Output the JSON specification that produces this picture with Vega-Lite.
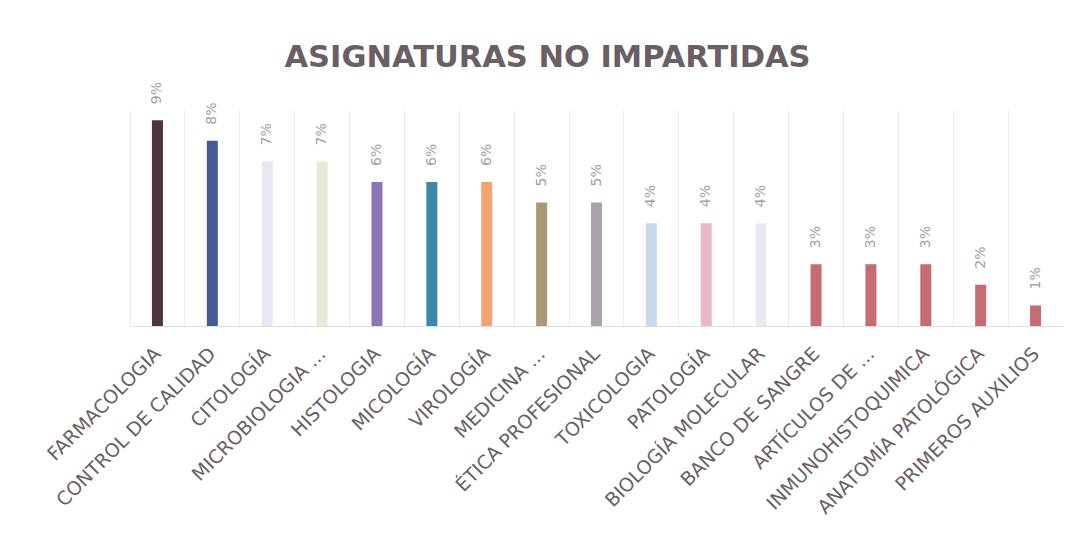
{
  "$schema": "https://vega.github.io/schema/vega-lite/v6.json",
  "width": 933,
  "height": 216,
  "autosize": {"type": "none"},
  "padding": {"left": 130, "top": 110, "right": 13, "bottom": 225},
  "background": "white",
  "title": {
    "text": "ASIGNATURAS NO IMPARTIDAS",
    "font": "DejaVu Sans",
    "fontWeight": "bold",
    "fontSize": 30.5,
    "color": "#6b5f66",
    "anchor": "middle",
    "frame": "group",
    "baseline": "alphabetic",
    "offset": -16,
    "dx": -49
  },
  "data": {
    "values": [
      {"asignatura": "FARMACOLOGIA", "valor": 0.0893},
      {"asignatura": "CONTROL DE CALIDAD", "valor": 0.0804},
      {"asignatura": "CITOLOGÍA", "valor": 0.0714},
      {"asignatura": "MICROBIOLOGIA ...", "valor": 0.0714},
      {"asignatura": "HISTOLOGIA", "valor": 0.0625},
      {"asignatura": "MICOLOGÍA", "valor": 0.0625},
      {"asignatura": "VIROLOGÍA", "valor": 0.0625},
      {"asignatura": "MEDICINA ...", "valor": 0.0536},
      {"asignatura": "ÉTICA PROFESIONAL", "valor": 0.0536},
      {"asignatura": "TOXICOLOGIA", "valor": 0.0446},
      {"asignatura": "PATOLOGÍA", "valor": 0.0446},
      {"asignatura": "BIOLOGÍA MOLECULAR", "valor": 0.0446},
      {"asignatura": "BANCO DE SANGRE", "valor": 0.0268},
      {"asignatura": "ARTÍCULOS DE ...", "valor": 0.0268},
      {"asignatura": "INMUNOHISTOQUIMICA", "valor": 0.0268},
      {"asignatura": "ANATOMÍA PATOLÓGICA", "valor": 0.0179},
      {"asignatura": "PRIMEROS AUXILIOS", "valor": 0.0089}
    ]
  },
  "encoding": {
    "x": {
      "field": "asignatura",
      "type": "nominal",
      "sort": null,
      "scale": {"paddingInner": 0, "paddingOuter": 0}
    },
    "y": {
      "field": "valor",
      "type": "quantitative",
      "scale": {"domain": [0, 0.0937], "nice": false},
      "axis": null
    }
  },
  "layer": [
    {
      "mark": {"type": "bar", "size": 11},
      "encoding": {
        "x": {
          "field": "asignatura",
          "type": "nominal",
          "sort": null,
          "axis": {
            "orient": "bottom",
            "title": null,
            "grid": true,
            "bandPosition": 0,
            "gridColor": "#ececec",
            "gridWidth": 1,
            "ticks": false,
            "labels": false,
            "domain": false
          }
        },
        "color": {
          "field": "asignatura",
          "type": "nominal",
          "sort": null,
          "legend": null,
          "scale": {
            "domain": ["FARMACOLOGIA", "CONTROL DE CALIDAD", "CITOLOGÍA", "MICROBIOLOGIA ...", "HISTOLOGIA", "MICOLOGÍA", "VIROLOGÍA", "MEDICINA ...", "ÉTICA PROFESIONAL", "TOXICOLOGIA", "PATOLOGÍA", "BIOLOGÍA MOLECULAR", "BANCO DE SANGRE", "ARTÍCULOS DE ...", "INMUNOHISTOQUIMICA", "ANATOMÍA PATOLÓGICA", "PRIMEROS AUXILIOS"],
            "range": ["#4a363b", "#435d91", "#e9e7f5", "#e5e9d8", "#8e75b9", "#3b89a9", "#f2a56e", "#aa9877", "#aaa2ac", "#c9d7ef", "#e9b7c5", "#ebe9f0", "#c66b72", "#c66b72", "#c66b72", "#c66b72", "#c66b72"]
          }
        }
      }
    },
    {
      "mark": {
        "type": "text",
        "angle": 270,
        "align": "left",
        "baseline": "middle",
        "dx": 16,
        "font": "DejaVu Sans",
        "fontSize": 14,
        "color": "#a3a0a8"
      },
      "encoding": {
        "x": {
          "field": "asignatura",
          "type": "nominal",
          "sort": null,
          "axis": {
            "orient": "bottom",
            "title": null,
            "grid": false,
            "ticks": false,
            "domain": true,
            "domainColor": "#dedede",
            "labelAngle": -45,
            "labelFont": "DejaVu Sans",
            "labelFontSize": 19,
            "labelColor": "#6b5f66",
            "labelPadding": 18,
            "labelOffset": -6,
            "labelLimit": 400
          }
        },
        "text": {"field": "valor", "type": "quantitative", "format": ".0%"}
      }
    }
  ],
  "resolve": {"axis": {"x": "independent"}},
  "config": {"view": {"stroke": null}}
}
